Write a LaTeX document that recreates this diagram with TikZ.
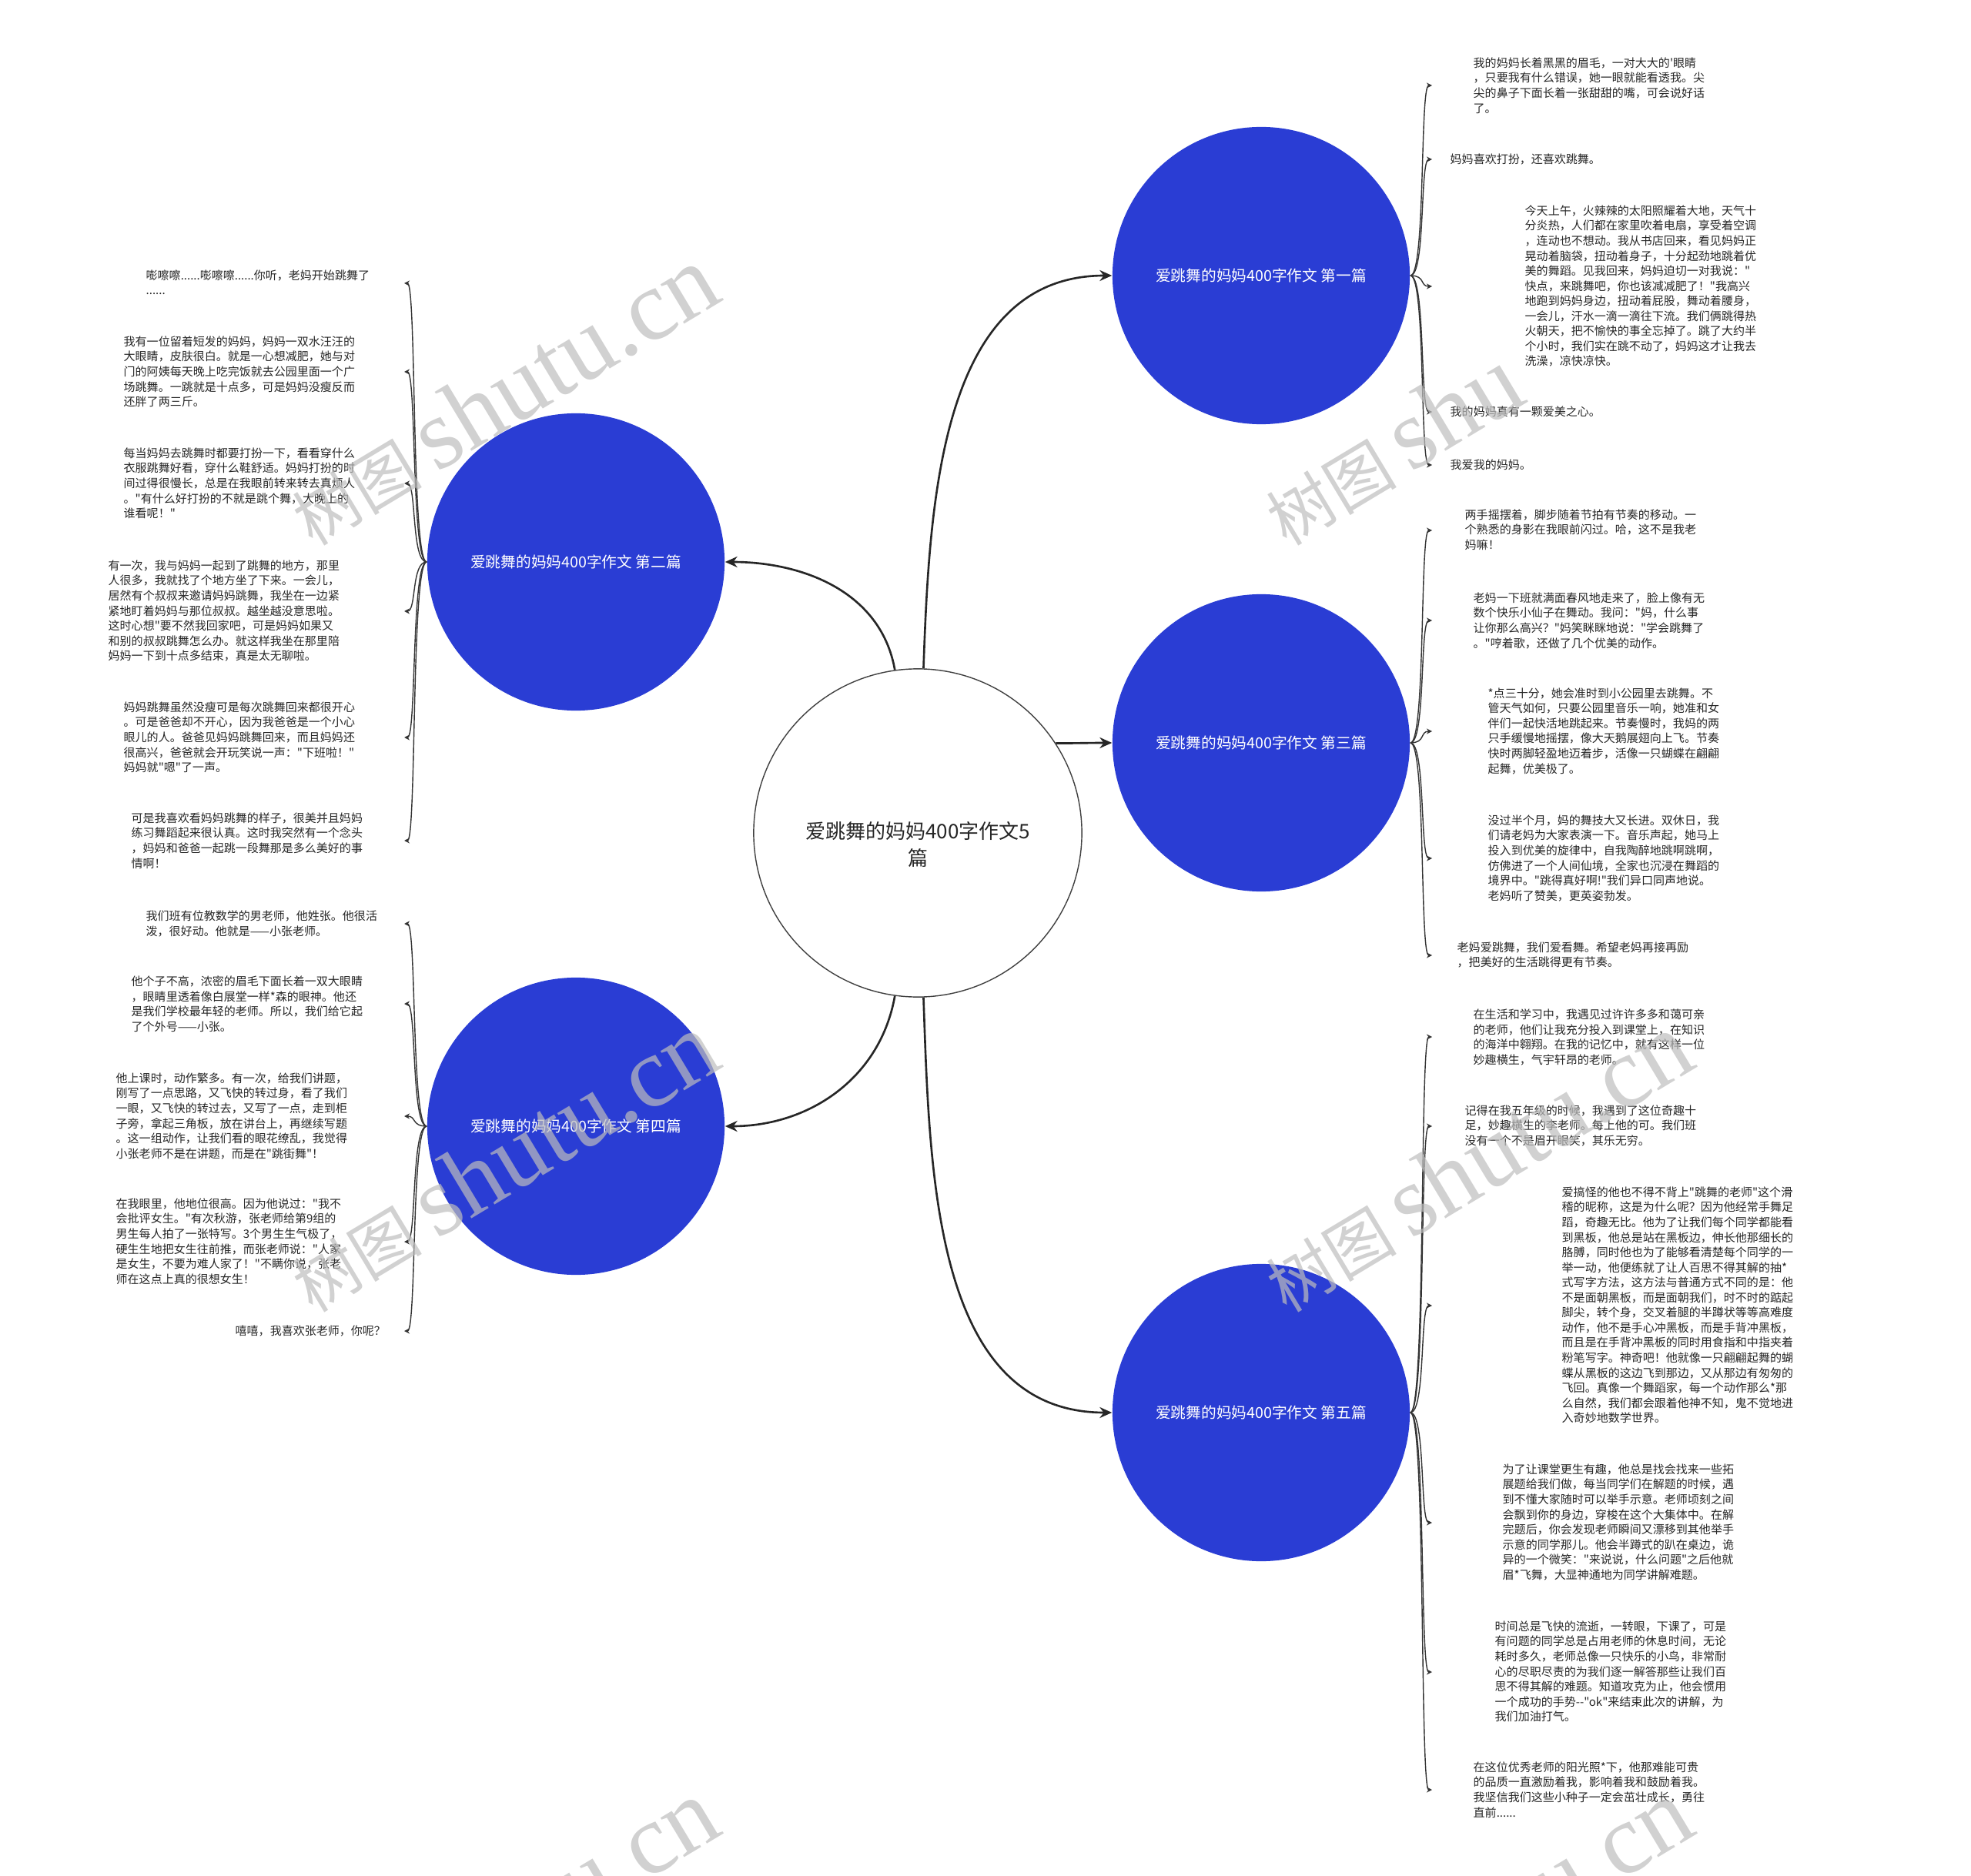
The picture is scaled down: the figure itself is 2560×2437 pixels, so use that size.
\documentclass[tikz,border=0pt]{standalone}
\usepackage{fontspec}
\usetikzlibrary{arrows.meta,positioning}
\newfontfamily\cjk{Noto Sans CJK SC}
\newfontfamily\wmlat{Liberation Serif}
\definecolor{topicblue}{HTML}{2A3DD4}
\definecolor{wmgray}{HTML}{BDBDBD}
\definecolor{ink}{HTML}{262626}

\begin{document}
\begin{tikzpicture}[x=0.01cm,y=-0.01cm,
    root/.style={circle,draw=black!75,line width=0.4pt,fill=white,minimum size=4.26cm,inner sep=0pt},
    topic/.style={circle,fill=topicblue,minimum size=3.86cm,inner sep=0pt,text=white,font=\cjk\fontsize{5.6pt}{7pt}\selectfont},
    leaf/.style={anchor=north west,inner sep=0pt,align=left,text=ink,font=\cjk\fontsize{4.27pt}{5.56pt}\selectfont},
    mainlink/.style={-{Stealth[length=4.5pt,width=4pt]},line width=0.75pt,black!85},
    sublink/.style={-{Stealth[length=2pt,width=2pt]},line width=0.4pt,black!80},
    wmark/.style={rotate=31,text=wmgray,text opacity=0.7,inner sep=0pt}
]
\useasboundingbox (0,0) rectangle (2560,2437);

% center and topics
\node[root] (c0) at (1192,1082) {};
\node[font=\cjk\fontsize{7.4pt}{9.7pt}\selectfont,align=center,text=ink] (c0t) at (1192,1097) {爱跳舞的妈妈400字作文5\\篇};
\node[topic] (c1) at (1638,358) {爱跳舞的妈妈400字作文 第一篇};
\node[topic] (c2) at (748,730) {爱跳舞的妈妈400字作文 第二篇};
\node[topic] (c3) at (1638,965) {爱跳舞的妈妈400字作文 第三篇};
\node[topic] (c4) at (748,1463) {爱跳舞的妈妈400字作文 第四篇};
\node[topic] (c5) at (1638,1835) {爱跳舞的妈妈400字作文 第五篇};

\draw[mainlink] (c0.88) to[out=88,in=180] (c1.west);
\draw[mainlink] (c0.98) to[out=100,in=0] (c2.east);
\draw[mainlink] (c0.33) to[out=0,in=180] (c3.west);
\draw[mainlink] (c0.-98) to[out=-100,in=0] (c4.east);
\draw[mainlink] (c0.-88) to[out=-88,in=180] (c5.west);

% leaf tips
\foreach \n/\y in {r1a/111,r1b/207,r1c/372,r1d/535,r1e/604,r3a/689,r3b/806,r3c/950,r3d/1115,r3e/1241,
    r5a/1347,r5b/1463,r5c/1696,r5d/1978,r5e/2172,r5f/2325}
  \coordinate (\n-tip) at (1860,\y);
\foreach \n/\y in {l2a/368,l2b/483,l2c/628,l2d/794,l2e/958,l2f/1092,l4a/1200,l4b/1304,l4c/1450,l4d/1613,l4e/1729}
  \coordinate (\n-tip) at (525,\y);

\foreach \c/\list in {c1/{r1a,r1b,r1c,r1d,r1e},c3/{r3a,r3b,r3c,r3d,r3e},c5/{r5a,r5b,r5c,r5d,r5e,r5f}}
  \foreach \n in \list
    \draw[sublink] (\c.east) .. controls +(20,0) and +(-16,0) .. (\n-tip);
\foreach \c/\list in {c2/{l2a,l2b,l2c,l2d,l2e,l2f},c4/{l4a,l4b,l4c,l4d,l4e}}
  \foreach \n in \list
    \draw[sublink] (\c.west) .. controls +(-20,0) and +(16,0) .. (\n-tip);

% first
\node[leaf] (r1a) at (1913,74) {我的妈妈长着黑黑的眉毛，一对大大的'眼睛\\，只要我有什么错误，她一眼就能看透我。尖\\尖的鼻子下面长着一张甜甜的嘴，可会说好话\\了。};
\node[leaf] (r1b) at (1883,199) {妈妈喜欢打扮，还喜欢跳舞。};
\node[leaf] (r1c) at (1980,266) {今天上午，火辣辣的太阳照耀着大地，天气十\\分炎热，人们都在家里吹着电扇，享受着空调\\，连动也不想动。我从书店回来，看见妈妈正\\晃动着脑袋，扭动着身子，十分起劲地跳着优\\美的舞蹈。见我回来，妈妈迫切一对我说："\\快点，来跳舞吧，你也该减减肥了！"我高兴\\地跑到妈妈身边，扭动着屁股，舞动着腰身，\\一会儿，汗水一滴一滴往下流。我们俩跳得热\\火朝天，把不愉快的事全忘掉了。跳了大约半\\个小时，我们实在跳不动了，妈妈这才让我去\\洗澡，凉快凉快。};
\node[leaf] (r1d) at (1883,527) {我的妈妈真有一颗爱美之心。};
\node[leaf] (r1e) at (1883,596) {我爱我的妈妈。};

% third
\node[leaf] (r3a) at (1902,661) {两手摇摆着，脚步随着节拍有节奏的移动。一\\个熟悉的身影在我眼前闪过。哈，这不是我老\\妈嘛！};
\node[leaf] (r3b) at (1913,769) {老妈一下班就满面春风地走来了，脸上像有无\\数个快乐小仙子在舞动。我问："妈，什么事\\让你那么高兴？"妈笑眯眯地说："学会跳舞了\\。"哼着歌，还做了几个优美的动作。};
\node[leaf] (r3c) at (1932,893) {*点三十分，她会准时到小公园里去跳舞。不\\管天气如何，只要公园里音乐一响，她准和女\\伴们一起快活地跳起来。节奏慢时，我妈的两\\只手缓慢地摇摆，像大天鹅展翅向上飞。节奏\\快时两脚轻盈地迈着步，活像一只蝴蝶在翩翩\\起舞，优美极了。};
\node[leaf] (r3d) at (1932,1058) {没过半个月，妈的舞技大又长进。双休日，我\\们请老妈为大家表演一下。音乐声起，她马上\\投入到优美的旋律中，自我陶醉地跳啊跳啊，\\仿佛进了一个人间仙境，全家也沉浸在舞蹈的\\境界中。"跳得真好啊!"我们异口同声地说。\\老妈听了赞美，更英姿勃发。};
\node[leaf] (r3e) at (1892,1223) {老妈爱跳舞，我们爱看舞。希望老妈再接再励\\，把美好的生活跳得更有节奏。};

% fifth
\node[leaf] (r5a) at (1913,1310) {在生活和学习中，我遇见过许许多多和蔼可亲\\的老师，他们让我充分投入到课堂上，在知识\\的海洋中翱翔。在我的记忆中，就有这样一位\\妙趣横生，气宇轩昂的老师。};
\node[leaf] (r5b) at (1902,1435) {记得在我五年级的时候，我遇到了这位奇趣十\\足，妙趣横生的李老师。每上他的可。我们班\\没有一个不是眉开眼笑，其乐无穷。};
\node[leaf] (r5c) at (2028,1541) {爱搞怪的他也不得不背上"跳舞的老师"这个滑\\稽的昵称，这是为什么呢？因为他经常手舞足\\蹈，奇趣无比。他为了让我们每个同学都能看\\到黑板，他总是站在黑板边，伸长他那细长的\\胳膊，同时他也为了能够看清楚每个同学的一\\举一动，他便练就了让人百思不得其解的抽*\\式写字方法，这方法与普通方式不同的是：他\\不是面朝黑板，而是面朝我们，时不时的踮起\\脚尖，转个身，交叉着腿的半蹲状等等高难度\\动作，他不是手心冲黑板，而是手背冲黑板，\\而且是在手背冲黑板的同时用食指和中指夹着\\粉笔写字。神奇吧！他就像一只翩翩起舞的蝴\\蝶从黑板的这边飞到那边，又从那边有匆匆的\\飞回。真像一个舞蹈家，每一个动作那么*那\\么自然，我们都会跟着他神不知，鬼不觉地进\\入奇妙地数学世界。};
\node[leaf] (r5d) at (1951,1901) {为了让课堂更生有趣，他总是找会找来一些拓\\展题给我们做，每当同学们在解题的时候，遇\\到不懂大家随时可以举手示意。老师顷刻之间\\会飘到你的身边，穿梭在这个大集体中。在解\\完题后，你会发现老师瞬间又漂移到其他举手\\示意的同学那儿。他会半蹲式的趴在桌边，诡\\异的一个微笑："来说说，什么问题"之后他就\\眉*飞舞，大显神通地为同学讲解难题。};
\node[leaf] (r5e) at (1941,2105) {时间总是飞快的流逝，一转眼，下课了，可是\\有问题的同学总是占用老师的休息时间，无论\\耗时多久，老师总像一只快乐的小鸟，非常耐\\心的尽职尽责的为我们逐一解答那些让我们百\\思不得其解的难题。知道攻克为止，他会惯用\\一个成功的手势--"ok"来结束此次的讲解，为\\我们加油打气。};
\node[leaf] (r5f) at (1913,2288) {在这位优秀老师的阳光照*下，他那难能可贵\\的品质一直激励着我，影响着我和鼓励着我。\\我坚信我们这些小种子一定会茁壮成长，勇往\\直前......};

% second
\node[leaf] (l2a) at (189,350) {嘭嚓嚓......嘭嚓嚓......你听，老妈开始跳舞了\\......};
\node[leaf] (l2b) at (160,436) {我有一位留着短发的妈妈，妈妈一双水汪汪的\\大眼睛，皮肤很白。就是一心想减肥，她与对\\门的阿姨每天晚上吃完饭就去公园里面一个广\\场跳舞。一跳就是十点多，可是妈妈没瘦反而\\还胖了两三斤。};
\node[leaf] (l2c) at (160,581) {每当妈妈去跳舞时都要打扮一下，看看穿什么\\衣服跳舞好看，穿什么鞋舒适。妈妈打扮的时\\间过得很慢长，总是在我眼前转来转去真烦人\\。"有什么好打扮的不就是跳个舞，大晚上的\\谁看呢！"};
\node[leaf] (l2d) at (140,727) {有一次，我与妈妈一起到了跳舞的地方，那里\\人很多，我就找了个地方坐了下来。一会儿，\\居然有个叔叔来邀请妈妈跳舞，我坐在一边紧\\紧地盯着妈妈与那位叔叔。越坐越没意思啦。\\这时心想"要不然我回家吧，可是妈妈如果又\\和别的叔叔跳舞怎么办。就这样我坐在那里陪\\妈妈一下到十点多结束，真是太无聊啦。};
\node[leaf] (l2e) at (160,911) {妈妈跳舞虽然没瘦可是每次跳舞回来都很开心\\。可是爸爸却不开心，因为我爸爸是一个小心\\眼儿的人。爸爸见妈妈跳舞回来，而且妈妈还\\很高兴，爸爸就会开玩笑说一声："下班啦！"\\妈妈就"嗯"了一声。};
\node[leaf] (l2f) at (170,1055) {可是我喜欢看妈妈跳舞的样子，很美并且妈妈\\练习舞蹈起来很认真。这时我突然有一个念头\\，妈妈和爸爸一起跳一段舞那是多么美好的事\\情啊！};

% fourth
\node[leaf] (l4a) at (189,1182) {我们班有位教数学的男老师，他姓张。他很活\\泼，很好动。他就是——小张老师。};
\node[leaf] (l4b) at (170,1267) {他个子不高，浓密的眉毛下面长着一双大眼睛\\，眼睛里透着像白展堂一样*森的眼神。他还\\是我们学校最年轻的老师。所以，我们给它起\\了个外号——小张。};
\node[leaf] (l4c) at (150,1393) {他上课时，动作繁多。有一次，给我们讲题，\\刚写了一点思路，又飞快的转过身，看了我们\\一眼，又飞快的转过去，又写了一点，走到柜\\子旁，拿起三角板，放在讲台上，再继续写题\\。这一组动作，让我们看的眼花缭乱，我觉得\\小张老师不是在讲题，而是在"跳街舞"！};
\node[leaf] (l4d) at (150,1556) {在我眼里，他地位很高。因为他说过："我不\\会批评女生。"有次秋游，张老师给第9组的\\男生每人拍了一张特写。3个男生生气极了，\\硬生生地把女生往前推，而张老师说："人家\\是女生，不要为难人家了！"不瞒你说，张老\\师在这点上真的很想女生！};
\node[leaf] (l4e) at (305,1721) {嘻嘻，我喜欢张老师，你呢？};

% watermark
\foreach \wx/\wy/\n in {653/514/1,653/1510/3,1918/1510/4,653/2506/5,1918/2506/6}
  \node[wmark] (wm\n) at (\wx,\wy) {\cjk\fontsize{24pt}{24pt}\selectfont 树图 \wmlat\fontsize{37pt}{37pt}\selectfont shutu.cn};
\node[wmark] (wm2) at (1918,514) {\cjk\fontsize{24pt}{24pt}\selectfont 树图 \wmlat\fontsize{37pt}{37pt}\selectfont shu\phantom{tu.cn}};
\end{tikzpicture}
\end{document}
